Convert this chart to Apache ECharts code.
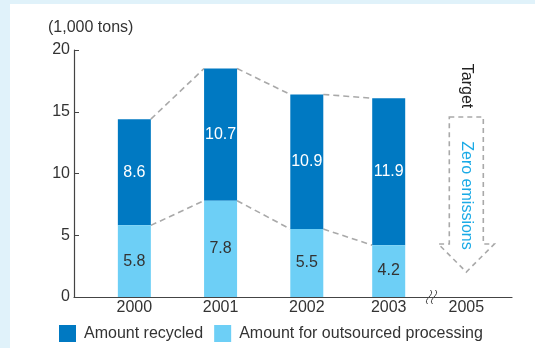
<!DOCTYPE html>
<html>
<head>
<meta charset="utf-8">
<script src="https://cdn.jsdelivr.net/npm/echarts@6/dist/echarts.min.js"></script>
<style>
  html, body { margin: 0; padding: 0; background: #e0f2fa; }
  #chart { width: 535px; height: 348px; }
</style>
</head>
<body>
<div id="chart"></div>
<script>
// Fiscal years shown on the horizontal axis, and where each one sits on it
const years = ['2000', '2001', '2002', '2003', '2005'];
const yearPos = [0, 1, 2, 2.95, 3.85];

// Waste amounts (1,000 tons)
const outsourced = [5.8, 7.8, 5.5, 4.2];
const recycled = [8.6, 10.7, 10.9, 11.9];

const yTicks = [0, 5, 10, 15, 20];

const FONT = '"Liberation Sans", Arial, Helvetica, sans-serif';
const FS = 16;
const TEXT = '#333333';
const DARK = '#0079c2';
const LIGHT = '#6dcff6';
const DASH = '#a9a9a9';
const BAR_W = 33;

const totals = outsourced.map((v, i) => +(v + recycled[i]).toFixed(1));

const chart = echarts.init(document.getElementById('chart'), null, { renderer: 'canvas' });

// One stacked segment: rectangle from the offset up by the value, with the value in the middle
function segmentItem(values, offsets, color, labelColor) {
  return function (params, api) {
    const i = params.dataIndex;
    const x = api.value(0);
    const lo = api.coord([x, offsets[i]]);
    const hi = api.coord([x, offsets[i] + values[i]]);
    return {
      type: 'group',
      children: [
        {
          type: 'rect',
          shape: { x: lo[0] - BAR_W / 2, y: hi[1], width: BAR_W, height: lo[1] - hi[1] },
          style: { fill: color }
        },
        {
          type: 'text',
          x: lo[0], y: (lo[1] + hi[1]) / 2,
          style: {
            text: values[i].toFixed(1), fill: labelColor, font: FS + 'px ' + FONT,
            align: 'center', verticalAlign: 'middle'
          }
        }
      ]
    };
  };
}

// Dashed connectors joining neighbouring bar tops (totals and outsourced tops)
function connectorItem(params, api) {
  const i = params.dataIndex;
  const half = BAR_W / 2;
  const style = { stroke: DASH, lineWidth: 1.6, lineDash: [6, 4], fill: null };
  const children = [];
  [totals, outsourced].forEach(arr => {
    const a = api.coord([yearPos[i], arr[i]]);
    const b = api.coord([yearPos[i + 1], arr[i + 1]]);
    children.push({
      type: 'line',
      shape: { x1: a[0] + half, y1: a[1], x2: b[0] - half, y2: b[1] },
      style: style
    });
  });
  return { type: 'group', children: children };
}

// Target column: dashed downward arrow with its captions, plus the axis break sign
function targetItem(params, api) {
  const base = api.coord([yearPos[4], 0]);
  const cx = base[0], y0 = base[1];
  const top = y0 - 180, neck = y0 - 53, tip = y0 - 25;
  const sw = 17, hw = 28;
  const brk = api.coord([(yearPos[3] + yearPos[4]) / 2, 0]);
  const waves = [-2, 3].map(dx => {
    const bx = brk[0] + 4 + dx;
    return {
      type: 'bezierCurve',
      shape: {
        x1: bx + 1, y1: y0 - 7, x2: bx - 2, y2: y0 + 7,
        cpx1: bx + 6, cpy1: y0 - 2, cpx2: bx - 7, cpy2: y0 + 2
      },
      style: { stroke: '#444', lineWidth: 1, fill: null }
    };
  });
  return {
    type: 'group',
    children: [
      {
        type: 'polygon',
        shape: {
          points: [
            [cx - sw, top], [cx + sw, top], [cx + sw, neck], [cx + hw, neck],
            [cx, tip], [cx - hw, neck], [cx - sw, neck]
          ]
        },
        style: { fill: null, stroke: DASH, lineWidth: 1.6, lineDash: [5, 4] }
      },
      {
        type: 'text',
        x: cx, y: top - 31,
        rotation: -Math.PI / 2,
        style: {
          text: 'Target', fill: '#222', font: FS + 'px ' + FONT,
          align: 'center', verticalAlign: 'middle'
        }
      },
      {
        type: 'text',
        x: cx, y: (top + neck) / 2 + 15,
        rotation: -Math.PI / 2,
        style: {
          text: 'Zero emissions', fill: '#1aaae6', font: FS + 'px ' + FONT,
          align: 'center', verticalAlign: 'middle'
        }
      }
    ].concat(waves)
  };
}

const option = {
  animation: false,
  backgroundColor: '#e0f2fa',
  graphic: [{
    type: 'rect', left: 10, top: 4, z: -10,
    shape: { width: 525, height: 344 },
    style: { fill: '#ffffff' }
  }],
  title: {
    text: '(1,000 tons)',
    left: 43, top: 15,
    textStyle: { fontFamily: FONT, fontSize: FS, fontWeight: 'normal', color: TEXT }
  },
  legend: {
    data: ['Amount recycled', 'Amount for outsourced processing'],
    left: 54, top: 320,
    icon: 'rect', itemWidth: 17, itemHeight: 17, itemGap: 11,
    textStyle: { fontFamily: FONT, fontSize: FS, color: TEXT, padding: [0, 0, 0, 3] }
  },
  grid: { left: 74, right: 23, top: 50, bottom: 51, containLabel: false },
  xAxis: {
    type: 'value',
    min: -0.7, max: 4.38,
    splitLine: { show: false },
    axisLine: { show: true, onZero: false, lineStyle: { color: '#444', width: 1.2 } },
    axisTick: { show: false },
    axisLabel: {
      customValues: yearPos,
      formatter: v => {
        const k = yearPos.findIndex(p => Math.abs(p - v) < 1e-6);
        return k >= 0 ? years[k] : '';
      },
      margin: 3,
      fontFamily: FONT, fontSize: FS, color: TEXT
    }
  },
  yAxis: {
    type: 'value',
    min: 0, max: 20, interval: 5,
    splitLine: { show: false },
    axisLine: { show: true, onZero: false, lineStyle: { color: '#444', width: 1.2 } },
    axisTick: { show: true, inside: true, length: 5, lineStyle: { color: '#444' },
      customValues: yTicks.slice(1) },
    axisLabel: {
      customValues: yTicks,
      margin: 4, fontFamily: FONT, fontSize: FS, color: TEXT
    }
  },
  series: [
    {
      name: 'Amount recycled',
      type: 'custom',
      itemStyle: { color: DARK },
      renderItem: segmentItem(recycled, outsourced, DARK, '#ffffff'),
      z: 2,
      data: recycled.map((v, i) => [yearPos[i], v])
    },
    {
      name: 'Amount for outsourced processing',
      type: 'custom',
      itemStyle: { color: LIGHT },
      renderItem: segmentItem(outsourced, outsourced.map(() => 0), LIGHT, TEXT),
      z: 2,
      data: outsourced.map((v, i) => [yearPos[i], v])
    },
    {
      name: 'connectors',
      type: 'custom',
      renderItem: connectorItem,
      silent: true,
      z: 1,
      data: [0, 1, 2].map(i => [yearPos[i], totals[i]])
    },
    {
      name: 'target',
      type: 'custom',
      renderItem: targetItem,
      silent: true,
      z: 3,
      data: [[yearPos[4], 0]]
    }
  ]
};

chart.setOption(option);
</script>
</body>
</html>
